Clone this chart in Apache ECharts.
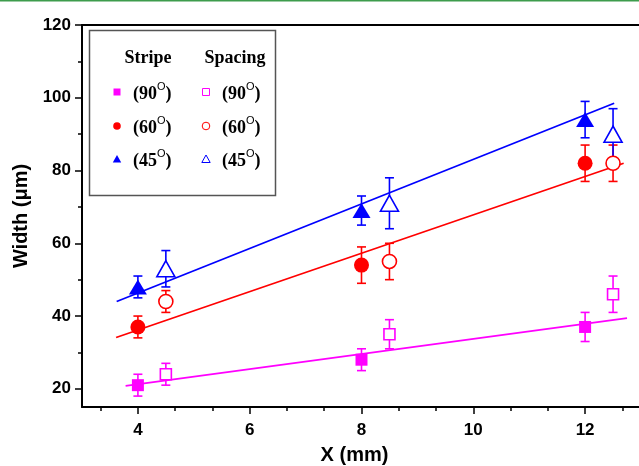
<!DOCTYPE html>
<html>
<head>
<meta charset="utf-8">
<script src="https://cdn.jsdelivr.net/npm/echarts@6/dist/echarts.min.js"></script>
<style>html,body{margin:0;padding:0;background:#fff}#c{width:639px;height:466px}</style>
</head>
<body>
<div id="c"></div>
<script>
// ---- data ----
var stripeX = [4, 8, 12];
var spacingX = [4.5, 8.5, 12.5];
var stripe90 = [21, 28, 37];
var stripe90Err = [3, 3, 4];
var spacing90 = [24, 35, 46];
var spacing90Err = [3, 4, 5];
var stripe60 = [37, 54, 82];
var stripe60Err = [3, 5, 5];
var spacing60 = [44, 55, 82];
var spacing60Err = [3, 5, 5];
var stripe45 = [48, 69, 94];
var stripe45Err = [3, 4, 5];
var spacing45 = [53, 71, 90];
var spacing45Err = [5, 7, 7];
// fitted lines: endpoints
var fit90X = [3.78, 12.75], fit90Y = [20.8, 39.4];
var fit60X = [3.61, 12.69], fit60Y = [34.1, 82.0];
var fit45X = [3.62, 12.52], fit45Y = [44.0, 98.5];
// ticks
var xMajor = [4, 6, 8, 10, 12];
var xMinor = [3.3333, 4.6667, 5.3333, 6.6667, 7.3333, 8.6667, 9.3333, 10.6667, 11.3333, 12.6667];
var yMajor = [20, 40, 60, 80, 100, 120];
var yMinor = [30, 50, 70, 90, 110];

var MAG = '#ff00ff', RED = '#ff0000', BLUE = '#0000ff';

function pts(xs, ys) { return xs.map(function (x, i) { return [x, ys[i]]; }); }
function errPts(xs, ys, es) { return xs.map(function (x, i) { return [x, ys[i] - es[i], ys[i] + es[i]]; }); }

function errSeries(xs, ys, es, color) {
  return {
    type: 'custom', xAxisIndex: 0, yAxisIndex: 0, z: 3, silent: true,
    data: errPts(xs, ys, es),
    renderItem: function (params, api) {
      var lo = api.coord([api.value(0), api.value(1)]);
      var hi = api.coord([api.value(0), api.value(2)]);
      var w = 4.5;
      var st = { stroke: color, lineWidth: 1.6 };
      return { type: 'group', children: [
        { type: 'line', shape: { x1: lo[0], y1: lo[1], x2: hi[0], y2: hi[1] }, style: st },
        { type: 'line', shape: { x1: lo[0] - w, y1: lo[1], x2: lo[0] + w, y2: lo[1] }, style: st },
        { type: 'line', shape: { x1: hi[0] - w, y1: hi[1], x2: hi[0] + w, y2: hi[1] }, style: st }
      ]};
    }
  };
}
function fitSeries(xs, ys, color) {
  return { type: 'line', xAxisIndex: 0, yAxisIndex: 0, z: 2, silent: true, showSymbol: false, symbol: 'none',
    data: pts(xs, ys), lineStyle: { color: color, width: 1.8 } };
}
function markSeries(xs, ys, sym, size, color, hollow) {
  return { type: 'scatter', xAxisIndex: 0, yAxisIndex: 0, z: 5, silent: true,
    symbol: sym, symbolSize: size, data: pts(xs, ys),
    itemStyle: hollow ? { color: '#fff', borderColor: color, borderWidth: 1.6, opacity: 1 } : { color: color, opacity: 1 } };
}

var axisFont = { fontFamily: 'Liberation Sans, Arial, sans-serif', fontWeight: 'bold', fontSize: 17, color: '#000' };
var nameFont = { fontFamily: 'Liberation Sans, Arial, sans-serif', fontWeight: 'bold', fontSize: 20, color: '#000' };

var option = {
  animation: false,
  backgroundColor: '#fff',
  grid: { left: 82, top: 25, right: -2, bottom: 59, containLabel: false, outerBoundsMode: 'none' },
  xAxis: [
    { type: 'value', min: 3, max: 13, position: 'bottom',
      axisLine: { show: true, lineStyle: { color: '#000', width: 2 } },
      axisTick: { show: true, inside: false, length: 7, lineStyle: { color: '#000', width: 1.5 }, customValues: xMajor },
      axisLabel: Object.assign({ margin: 15, customValues: xMajor }, axisFont),
      splitLine: { show: false },
      name: 'X (mm)', nameLocation: 'middle', nameGap: 38,
      nameTextStyle: Object.assign({ padding: [0, 14, 0, 0] }, nameFont) },
    { type: 'value', min: 3, max: 13, position: 'bottom',
      axisLine: { show: false },
      axisTick: { show: true, inside: false, length: 4, lineStyle: { color: '#000', width: 1.5 }, customValues: xMinor },
      axisLabel: { show: false }, splitLine: { show: false } },
    { type: 'value', min: 3, max: 13, position: 'top',
      axisLine: { show: true, lineStyle: { color: '#000', width: 2 } },
      axisTick: { show: false }, axisLabel: { show: false }, splitLine: { show: false } }
  ],
  yAxis: [
    { type: 'value', min: 15, max: 120, position: 'left',
      axisLine: { show: true, lineStyle: { color: '#000', width: 2 } },
      axisTick: { show: true, inside: false, length: 7, lineStyle: { color: '#000', width: 1.5 }, customValues: yMajor },
      axisLabel: Object.assign({ margin: 11, customValues: yMajor }, axisFont),
      splitLine: { show: false },
      name: 'Width (\u03bcm)', nameLocation: 'middle', nameGap: 48, nameRotate: 90,
      nameTextStyle: nameFont },
    { type: 'value', min: 15, max: 120, position: 'left',
      axisLine: { show: false },
      axisTick: { show: true, inside: false, length: 4, lineStyle: { color: '#000', width: 1.5 }, customValues: yMinor },
      axisLabel: { show: false }, splitLine: { show: false } }
  ],
  series: [
    fitSeries(fit90X, fit90Y, MAG),
    fitSeries(fit60X, fit60Y, RED),
    fitSeries(fit45X, fit45Y, BLUE),
    errSeries(stripeX, stripe90, stripe90Err, MAG),
    errSeries(spacingX, spacing90, spacing90Err, MAG),
    errSeries(stripeX, stripe60, stripe60Err, RED),
    errSeries(spacingX, spacing60, spacing60Err, RED),
    errSeries(stripeX, stripe45, stripe45Err, BLUE),
    errSeries(spacingX, spacing45, spacing45Err, BLUE),
    markSeries(stripeX, stripe90, 'rect', 12, MAG, false),
    markSeries(spacingX, spacing90, 'rect', 11, MAG, true),
    markSeries(stripeX, stripe60, 'circle', 15, RED, false),
    markSeries(spacingX, spacing60, 'circle', 14, RED, true),
    markSeries(stripeX, stripe45, 'triangle', [18, 15], BLUE, false),
    markSeries(spacingX, spacing45, 'triangle', [18, 16], BLUE, true)
  ],
  graphic: []
};

// legend drawn as graphic
var serif = 'Liberation Serif, Times New Roman, serif';
var legendRows = [
  { y: 92, color: MAG, sym: 'rect', label: '90' },
  { y: 126, color: RED, sym: 'circle', label: '60' },
  { y: 159, color: BLUE, sym: 'tri', label: '45' }
];
var g = [];
g.push({ type: 'rect', shape: { x: 0, y: 0, width: 639, height: 1.5 }, style: { fill: '#3d9c4c' } });
g.push({ type: 'rect', z: 10, shape: { x: 89.5, y: 30.5, width: 186, height: 165 }, style: { fill: '#fff', stroke: '#555', lineWidth: 1.5 } });
g.push({ type: 'text', z: 11, x: 148, y: 58, style: { text: 'Stripe', font: 'bold 18px ' + serif, fill: '#000', align: 'center', verticalAlign: 'middle' } });
g.push({ type: 'text', z: 11, x: 235, y: 58, style: { text: 'Spacing', font: 'bold 18px ' + serif, fill: '#000', align: 'center', verticalAlign: 'middle' } });
function legSym(cx, cy, sym, color, hollow) {
  var st = hollow ? { fill: '#fff', stroke: color, lineWidth: 1 } : { fill: color };
  if (sym === 'rect') return { type: 'rect', z: 11, shape: { x: cx - 3.5, y: cy - 3.5, width: 7, height: 7 }, style: st };
  if (sym === 'circle') return { type: 'circle', z: 11, shape: { cx: cx, cy: cy, r: 3.8 }, style: st };
  return { type: 'polygon', z: 11, shape: { points: [[cx, cy - 4], [cx + 4.2, cy + 3.5], [cx - 4.2, cy + 3.5]] }, style: st };
}
legendRows.forEach(function (r) {
  g.push(legSym(117, r.y, r.sym, r.color, false));
  g.push(legSym(206, r.y, r.sym, r.color, true));
  [133, 222].forEach(function (tx) {
    g.push({ type: 'text', z: 11, x: tx, y: r.y, style: {
      text: '{a|(' + r.label + '}{s|O}{a|)}', align: 'left', verticalAlign: 'middle',
      rich: {
        a: { fontFamily: serif, fontWeight: 'bold', fontSize: 18, lineHeight: 22, verticalAlign: 'bottom', fill: '#000' },
        s: { fontFamily: 'Liberation Sans, Arial, sans-serif', fontSize: 11, lineHeight: 11, verticalAlign: 'top', fill: '#000' }
      } } });
  });
});
option.graphic = g;

var chart = echarts.init(document.getElementById('c'), null, { renderer: 'canvas' });
chart.setOption(option);
</script>
</body>
</html>
